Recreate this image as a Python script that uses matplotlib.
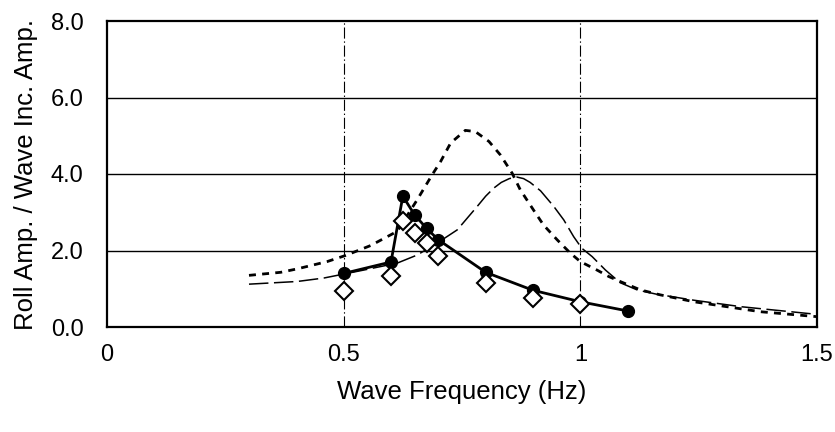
import matplotlib
matplotlib.use("Agg")
import matplotlib.pyplot as plt

plt.rcParams['font.family'] = ['Liberation Sans', 'DejaVu Sans']
plt.rcParams['lines.scale_dashes'] = False

# Measured: filled circles (joined)
exp_x = [0.5, 0.6, 0.625, 0.65, 0.675, 0.7, 0.8, 0.9, 1.0, 1.1]
exp_y = [1.40, 1.70, 3.42, 2.93, 2.58, 2.28, 1.43, 0.96, 0.66, 0.42]

# Second measured set: open diamonds
exp2_x = [0.5, 0.6, 0.625, 0.65, 0.675, 0.7, 0.8, 0.9, 1.0]
exp2_y = [0.94, 1.34, 2.76, 2.47, 2.19, 1.86, 1.14, 0.76, 0.60]

# Computed curve 1 (short dashes)
calc1_x = [0.30, 0.367, 0.402, 0.465, 0.504, 0.557, 0.613, 0.655, 0.687, 0.705, 0.726,
           0.757, 0.778, 0.807, 0.831, 0.856, 0.873, 0.901, 0.922, 0.951, 0.979,
           1.0, 1.035, 1.06, 1.084, 1.127, 1.169, 1.24, 1.31, 1.38, 1.5]
calc1_y = [1.35, 1.43, 1.52, 1.71, 1.87, 2.13, 2.50, 3.32, 3.98, 4.33, 4.81,
           5.14, 5.11, 4.85, 4.50, 4.02, 3.59, 3.06, 2.67, 2.28, 1.93,
           1.71, 1.49, 1.32, 1.19, 0.97, 0.84, 0.66, 0.53, 0.40, 0.27]

# Computed curve 2 (thin long dashes)
calc2_x = [0.30, 0.402, 0.458, 0.543, 0.613, 0.655, 0.697, 0.740, 0.762, 0.782,
           0.800, 0.817, 0.833, 0.850, 0.866, 0.880, 0.894, 0.916, 0.944, 0.965,
           0.986, 1.003, 1.025, 1.053, 1.084, 1.12, 1.16, 1.24, 1.34, 1.5]
calc2_y = [1.12, 1.19, 1.28, 1.49, 1.67, 1.88, 2.19, 2.54, 2.86, 3.15,
           3.42, 3.63, 3.78, 3.88, 3.92, 3.88, 3.78, 3.56, 3.15, 2.80,
           2.36, 2.06, 1.84, 1.49, 1.16, 0.97, 0.86, 0.70, 0.53, 0.33]

xticks = [0, 0.5, 1, 1.5]
xticklabels = ['0', '0.5', '1', '1.5']
yticks = [0, 2, 4, 6, 8]
yticklabels = ['0.0', '2.0', '4.0', '6.0', '8.0']

fig = plt.figure(figsize=(8.35, 4.32), dpi=100)
ax = fig.add_axes([107/835, 1 - 327/432, 710/835, 306/432])

ax.plot(calc1_x, calc1_y, color='black', lw=2.0, dashes=(5, 4.5), zorder=2)
ax.plot(calc2_x, calc2_y, color='black', lw=1.1, dashes=(14, 4), zorder=2)
ax.plot(exp_x, exp_y, color='black', lw=2.0, marker='o', markersize=8.5,
        markerfacecolor='black', zorder=3)
ax.plot(exp2_x, exp2_y, linestyle='none', marker='D', markersize=9.5,
        markerfacecolor='white', markeredgecolor='black', markeredgewidth=1.5, zorder=4)

ax.set_xlim(0, 1.5)
ax.set_ylim(0, 8)
ax.set_xticks(xticks)
ax.set_xticklabels(xticklabels)
ax.set_yticks(yticks)
ax.set_yticklabels(yticklabels)

for y in [2, 4, 6]:
    ax.axhline(y, color='black', lw=1.0, zorder=1)
for x in [0.5, 1.0]:
    ax.axvline(x, color='black', lw=0.8, dashes=(8, 2, 1, 2), zorder=1)

for s in ax.spines.values():
    s.set_linewidth(1.6)
    s.set_color('black')

ax.tick_params(axis='both', which='both', length=0, labelsize=17, colors='black')
ax.tick_params(axis='y', pad=17)
ax.tick_params(axis='x', pad=12)

ax.set_xlabel('Wave Frequency (Hz)', fontsize=18.5, labelpad=10)
ax.set_ylabel('Roll Amp. / Wave Inc. Amp.', fontsize=18.5, labelpad=9)

fig.savefig('out.png', dpi=100)
